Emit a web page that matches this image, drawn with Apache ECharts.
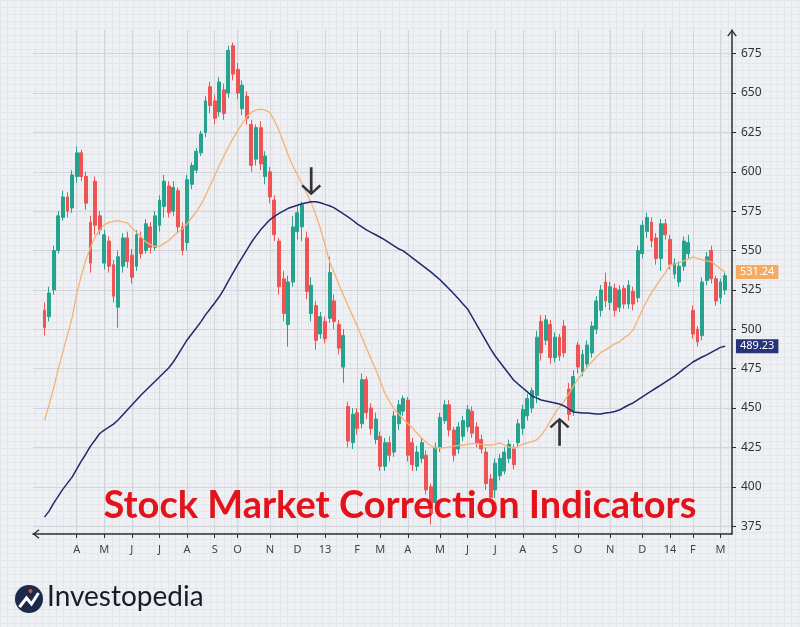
<!DOCTYPE html>
<html lang="en">
<head>
<meta charset="UTF-8">
<title>Stock Market Correction Indicators</title>
<style>
  * { box-sizing: border-box; margin: 0; padding: 0; }
  html, body { width: 800px; height: 627px; overflow: hidden; }
  /* graph paper backdrop */
  body {
    background-color: #eef0f3;
    background-image:
      linear-gradient(#e3e6ea 1px, transparent 1px),
      linear-gradient(90deg, #e3e6ea 1px, transparent 1px);
    background-size: 7px 7px;
  }
  #chart { width: 800px; height: 627px; }
</style>
<script src="https://cdn.jsdelivr.net/npm/echarts@6/dist/echarts.min.js"></script>
</head>
<body>
<div id="chart"></div>
<script>
  // month tick labels and the candle index where each month starts
  const monthLabels = ['A','M','J','J','A','S','O','N','D','13','F','M','A','M','J','J','A','S','O','N','D','14','F','M'];
  const monthIndex  = [9,15,21,27,33,39,44,51,57,63,70,75,81,88,94,100,106,113,118,125,132,138,143,149];
  const yTicks = [375,400,425,450,475,500,525,550,575,600,625,650,675];

  // candles: [open, close, low, high]
  const candles = [
    [512,501,496,517],[508,523,505,527],[525,550,522,553],[550,572,548,575],[571,584,569,588],
    [584,575,571,587],[577,598,574,601],[597,612,593,616],[612,597,594,614],[597,580,576,600],
    [568,542,536,572],[594,566,560,597],[572,563,560,575],[542,560,538,563],[556,540,536,559],
    [541,521,517,544],[514,546,501,550],[540,558,536,561],[558,543,539,562],[547,533,529,551],
    [540,560,537,563],[558,548,545,562],[550,567,548,570],[565,552,548,568],[552,572,550,575],
    [566,582,562,585],[578,594,571,598],[591,574,571,594],[575,590,572,594],[588,565,561,590],
    [565,550,547,568],[555,595,550,598],[592,604,589,606],[601,613,599,615],[612,624,610,626],
    [625,645,622,648],[654,642,637,657],[645,634,630,649],[638,657,635,660],[652,637,633,656],
    [650,677,647,680],[680,662,658,682],[665,650,646,669],[640,655,636,658],[648,634,630,651],
    [630,604,600,633],[608,628,604,630],[628,605,601,632],[597,610,592,613],[600,584,580,603],
    [582,560,556,585],[556,527,522,558],[532,510,505,537],[503,530,489,534],[530,565,527,572],
    [562,574,557,578],[565,579,556,581],[558,524,519,562],[510,528,505,533],[515,493,487,518],
    [497,508,494,511],[505,494,491,508],[507,536,504,546],[518,505,500,522],[503,488,484,506],
    [476,496,466,500],[451,429,425,454],[428,446,424,450],[447,437,433,450],[440,468,437,472],
    [468,447,443,470],[450,437,433,453],[430,443,427,447],[432,413,410,435],[413,428,410,431],
    [428,420,416,432],[422,445,419,448],[440,452,436,455],[448,456,445,458],[455,420,416,457],
    [428,414,410,431],[413,422,410,426],[418,428,415,431],[420,398,395,423],[400,383,376,402],
    [390,425,387,428],[425,444,422,447],[442,452,440,455],[452,436,432,455],[436,420,416,438],
    [424,438,421,441],[432,442,429,445],[438,449,435,452],[448,434,431,451],[438,428,425,441],
    [430,424,421,433],[422,402,398,425],[405,393,390,408],[398,415,393,418],[407,418,404,421],
    [410,422,408,425],[418,427,415,430],[424,414,411,427],[428,440,425,443],[437,449,433,452],
    [445,456,442,459],[450,461,447,463],[458,495,453,499],[505,485,480,509],[493,506,490,509],
    [503,482,478,506],[482,495,479,498],[495,483,480,497],[502,485,482,506],[462,446,442,466],
    [448,470,445,474],[490,476,472,492],[473,484,470,487],[478,490,475,493],[485,502,482,505],
    [500,518,497,521],[512,525,508,528],[530,518,514,536],[517,527,512,530],[526,512,508,529],
    [514,525,511,528],[526,516,513,528],[516,528,513,531],[524,516,512,527],[520,550,517,553],
    [548,566,545,569],[562,571,558,574],[568,556,552,571],[558,545,541,561],[545,567,537,570],
    [567,560,557,570],[557,541,538,560],[535,542,532,545],[530,540,527,543],[540,556,537,559],
    [548,555,545,560],[512,497,494,515],[500,492,489,502],[496,530,493,533],[531,546,528,549],
    [550,532,529,553],[532,518,515,534],[520,530,516,532],[525,534,522,536]
  ];

  // 50-day moving average (orange)
  const ma50 = [
    442.4,451.9,462.7,474.8,485.6,496.4,507.2,522.5,533.9,544.1,
    551.7,558.7,563.1,566.3,567.9,568.5,568.9,568.2,567.6,564.4,
    561.5,558.7,555.5,553.9,552.6,552.6,554.5,556.4,559.0,561.5,
    563.8,566.9,570.8,574.6,579.0,584.7,591.1,597.5,603.8,609.9,
    615.9,621.0,626.1,630.5,635.0,637.8,639.1,639.7,639.1,637.5,
    632.4,626.1,618.4,610.5,603.8,598.1,592.4,586.3,580.3,572.7,
    563.8,553.6,542.8,535.8,528.5,521.8,515.1,508.5,502.1,495.1,
    488.1,481.1,474.8,467.2,459.5,454.4,449.4,446.2,443.0,440.1,
    437.3,434.1,430.9,428.1,426.2,424.6,424.6,424.9,425.2,425.8,
    426.2,426.5,427.1,427.4,427.4,426.8,426.5,426.5,427.1,427.8,
    426.5,425.2,424.6,425.8,427.1,427.8,428.7,429.7,432.8,436.7,
    441.7,446.8,450.6,454.4,458.9,463.9,468.4,472.2,476.1,479.2,
    482.4,485.3,486.9,488.8,490.7,492.0,494.5,496.4,499.6,505.9,
    512.3,518.0,523.1,527.6,532.0,535.8,540.9,541.5,542.2,543.4,
    544.7,546.0,545.0,544.1,543.4,542.8,540.6,538.3,536.4
  ];

  // 200-day moving average (navy)
  const ma200 = [
    380.7,384.5,389.6,394.1,398.5,402.3,406.1,411.2,416.3,420.8,
    425.8,429.7,433.8,436.0,437.9,439.8,442.4,445.5,448.7,451.9,
    455.1,458.3,461.1,464.0,466.8,469.7,472.5,475.4,479.2,483.7,
    488.5,493.2,497.0,500.8,504.7,509.1,512.9,516.7,520.6,525.3,
    530.7,535.8,540.9,545.7,550.4,555.2,559.3,563.1,566.3,569.5,
    571.7,573.6,575.2,576.8,577.8,578.7,579.7,580.3,580.9,580.9,
    580.3,579.3,578.4,577.1,575.2,573.3,571.4,569.2,566.9,565.0,
    563.1,561.5,560.0,558.4,556.8,554.9,553.0,551.1,549.8,547.6,
    545.3,543.1,540.9,538.7,536.4,533.9,531.4,528.5,525.6,522.5,
    519.3,516.1,512.9,507.8,502.8,497.7,492.6,487.5,483.0,479.2,
    475.4,471.6,467.8,465.2,462.7,460.2,457.6,456.4,455.1,454.4,
    453.8,453.2,452.5,451.3,449.4,447.5,447.2,446.8,446.8,446.5,
    446.2,446.2,446.8,447.2,447.8,448.7,450.3,451.9,453.2,455.1,
    457.0,458.9,460.8,462.7,464.6,466.5,468.4,470.3,472.5,474.8,
    477.0,479.2,480.8,482.4,483.7,485.3,486.9,488.5,489.2
  ];

  const ma50Tag = '531.24';
  const ma200Tag = '489.23';

  // annotation arrows: candle index, price at arrow centre, rotation
  const arrowIdx = [60, 114];
  const arrowPrice = [594, 435];
  const arrowRotate = [0, 180];

  const TITLE = 'Stock Market Correction Indicators';

  // two empty slots before the first candle, one after the last
  const LEAD = 2, TAIL = 1;
  const total = LEAD + candles.length + TAIL;
  const categories = Array.from({ length: total }, () => '');
  monthIndex.forEach((idx, k) => { categories[idx] = monthLabels[k]; });

  const gapC = ['-', '-', '-', '-'];
  const pad = (arr, g) => [...Array(LEAD).fill(g), ...arr, ...Array(TAIL).fill(g)];
  const candleData = pad(candles, gapC);
  const ma50Data = pad(ma50, '-');
  const ma200Data = pad(ma200, '-');

  const chevron = 'path://M0,9 L7,0 L14,9 L12.4,10.2 L7,3.2 L1.6,10.2 Z';
  const arrowPath = 'path://M8.8,0 H11.2 V23.6 L17.2,17.2 L18.9,18.9 L10,27.8 L1.1,18.9 L2.8,17.2 L8.8,23.6 Z';
  const axisColor = '#2e2e2e';
  const gridColor = '#d2d5db';
  const isMonth = (i, v) => v !== '';

  // price tag on the right axis for the last value of a moving average
  function priceTag(value, text, bg) {
    return {
      silent: true,
      symbol: ['none', 'none'],
      lineStyle: { color: 'transparent', width: 0 },
      label: {
        show: true, position: 'end', distance: 4, formatter: text,
        backgroundColor: bg, color: '#fff', fontSize: 11, fontFamily: 'Noto Sans',
        padding: [2, 4, 1, 4]
      },
      data: [{ yAxis: value }]
    };
  }

  const chart = echarts.init(document.getElementById('chart'), null, { renderer: 'canvas' });
  chart.setOption({
    animation: false,
    backgroundColor: 'transparent',
    grid: { left: 33, right: 68, top: 30, bottom: 93 },
    xAxis: {
      type: 'category',
      data: categories,
      boundaryGap: true,
      axisLine: {
        show: true, onZero: false,
        lineStyle: { color: axisColor, width: 1.5 },
        symbol: [chevron, 'none'], symbolSize: [13, 7], symbolOffset: [3, 0]
      },
      axisTick: { show: true, interval: isMonth, alignWithLabel: true, length: 4, lineStyle: { color: axisColor } },
      axisLabel: { interval: 0, color: '#444', fontSize: 11, fontFamily: 'Noto Sans', margin: 10 },
      splitLine: { show: true, interval: isMonth, alignWithLabel: true, lineStyle: { color: gridColor, width: 1 } }
    },
    yAxis: {
      type: 'value',
      position: 'right',
      min: 370,
      max: 690,
      axisLine: {
        show: true,
        lineStyle: { color: axisColor, width: 1.5 },
        symbol: ['none', chevron], symbolSize: [13, 7], symbolOffset: [0, -3]
      },
      axisTick: { show: true, length: 4, lineStyle: { color: axisColor }, customValues: yTicks },
      axisLabel: { customValues: yTicks, color: '#333', fontSize: 12, fontFamily: 'Noto Sans', margin: 9 },
      splitLine: { show: true, lineStyle: { color: gridColor, width: 1 } }
    },
    series: [
      {
        type: 'candlestick',
        data: candleData,
        barWidth: 3.4,
        clip: false,
        itemStyle: {
          color: '#26a28f', color0: '#ee5454',
          borderColor: '#26a28f', borderColor0: '#ee5454', borderWidth: 1
        },
        markPoint: {
          silent: true,
          symbol: arrowPath,
          symbolSize: [20, 28],
          itemStyle: { color: '#333' },
          label: { show: false },
          data: arrowIdx.map((idx, k) => ({ coord: [idx, arrowPrice[k]], symbolRotate: arrowRotate[k] }))
        }
      },
      {
        type: 'line',
        data: ma50Data,
        symbol: 'none',
        clip: false,
        lineStyle: { color: '#f5b273', width: 1.3 },
        markLine: priceTag(ma50[ma50.length - 1], ma50Tag, '#f6ab63')
      },
      {
        type: 'line',
        data: ma200Data,
        symbol: 'none',
        clip: false,
        lineStyle: { color: '#1f2a6d', width: 1.5 },
        markLine: priceTag(ma200[ma200.length - 1], ma200Tag, '#26357a')
      }
    ],
    graphic: [
      {
        type: 'text', left: 'center', top: 487, z: 100,
        style: { text: TITLE, font: 'bold 38px Lato', fill: '#e3121b' }
      },
      {
        type: 'group', left: 15, top: 585, z: 100,
        children: [
          { type: 'circle', shape: { cx: 14.5, cy: 14, r: 14 }, style: { fill: '#1d2a4b' } },
          { type: 'polyline', shape: { points: [[5, 22], [12, 13], [17, 19], [24, 8]] },
            style: { stroke: '#fff', lineWidth: 3, fill: null } },
          { type: 'circle', shape: { cx: 16, cy: 6, r: 2 }, style: { fill: '#e5483c' } }
        ]
      },
      {
        type: 'text', left: 47, top: 583, z: 100,
        style: { text: 'Investopedia', font: '28px Lato', fill: '#1b1b27' }
      }
    ]
  });
</script>
</body>
</html>
